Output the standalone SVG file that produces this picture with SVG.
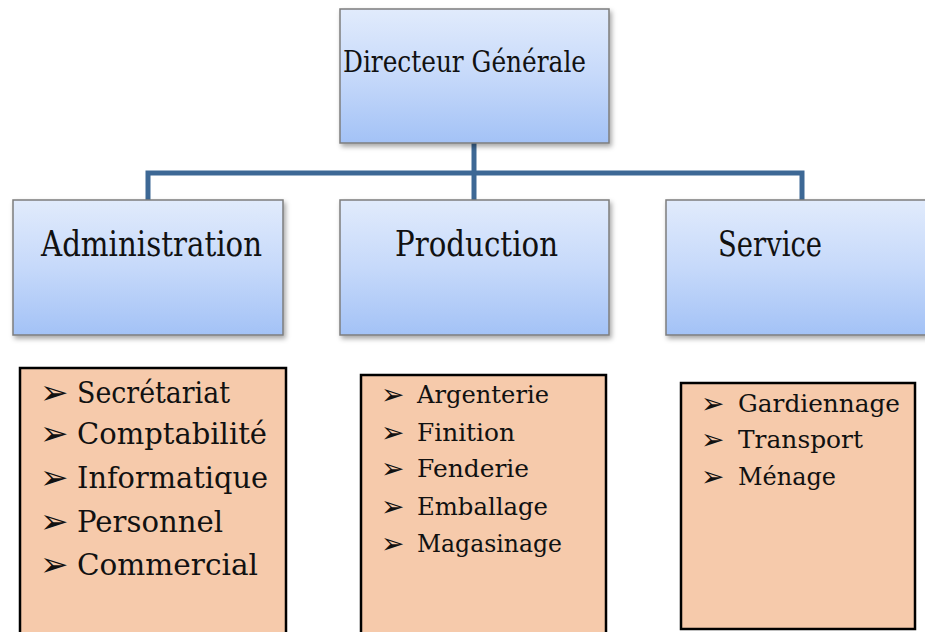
<svg xmlns="http://www.w3.org/2000/svg" width="925" height="632" viewBox="0 0 925 632">
<defs>
<linearGradient id="blueGrad" x1="0" y1="0" x2="0" y2="1">
<stop offset="0" stop-color="#e1ebfc"/>
<stop offset="0.5" stop-color="#c6d9fa"/>
<stop offset="1" stop-color="#a3c2f6"/>
</linearGradient>
<filter id="shadow" x="-10%" y="-10%" width="125%" height="130%">
<feDropShadow dx="2" dy="3" stdDeviation="2.5" flood-color="#000" flood-opacity="0.35"/>
</filter>
</defs>
<style>
.box{fill:url(#blueGrad);stroke:#7d7d7d;stroke-width:1.5;filter:url(#shadow)}
.list{fill:#f6caab;stroke:#000;stroke-width:2.5}
.conn{fill:none;stroke:#3d6895;stroke-width:5;stroke-linejoin:miter}
.t{fill:#111;font-family:'DejaVu Serif',serif}
.bul{fill:#111;font-family:'DejaVu Sans',sans-serif}
.h1{font-size:30px}
.h2{font-size:36px}
.l1{font-size:29px}
.l2{font-size:25px}
</style>
<rect width="925" height="632" fill="#fff"/>
<g id="connectors">
<path class="conn" d="M474 143 V200"/>
<path class="conn" d="M148 200 V173 H802 V200"/>
</g>
<g id="directeur">
<rect class="box" x="340" y="9" width="269" height="134"/>
<text class="t h1" font-family="DejaVu Serif, serif" x="343" y="72" textLength="243" lengthAdjust="spacingAndGlyphs">Directeur Générale</text>
</g>
<g id="administration">
<rect class="box" x="13" y="200" width="270" height="135"/>
<text class="t h2" font-family="DejaVu Serif, serif" x="41" y="256" textLength="221" lengthAdjust="spacingAndGlyphs">Administration</text>
</g>
<g id="production">
<rect class="box" x="340" y="200" width="269" height="135"/>
<text class="t h2" font-family="DejaVu Serif, serif" x="395" y="256" textLength="163" lengthAdjust="spacingAndGlyphs">Production</text>
</g>
<g id="service">
<rect class="box" x="666" y="200" width="275" height="135"/>
<text class="t h2" font-family="DejaVu Serif, serif" x="718" y="256" textLength="104" lengthAdjust="spacingAndGlyphs">Service</text>
</g>
<g id="admin-list">
<rect class="list" x="20" y="368" width="266" height="280"/>
<text class="bul" font-size="34" x="40" y="404">➢</text>
<text class="t l1" font-family="DejaVu Serif, serif" x="77" y="403" textLength="153" lengthAdjust="spacingAndGlyphs">Secrétariat</text>
<text class="bul" font-size="34" x="40" y="445">➢</text>
<text class="t l1" font-family="DejaVu Serif, serif" x="77" y="444" textLength="190" lengthAdjust="spacingAndGlyphs">Comptabilité</text>
<text class="bul" font-size="34" x="40" y="489">➢</text>
<text class="t l1" font-family="DejaVu Serif, serif" x="77" y="488" textLength="191" lengthAdjust="spacingAndGlyphs">Informatique</text>
<text class="bul" font-size="34" x="40" y="533">➢</text>
<text class="t l1" font-family="DejaVu Serif, serif" x="77" y="532" textLength="146" lengthAdjust="spacingAndGlyphs">Personnel</text>
<text class="bul" font-size="34" x="40" y="576">➢</text>
<text class="t l1" font-family="DejaVu Serif, serif" x="77" y="575" textLength="181" lengthAdjust="spacingAndGlyphs">Commercial</text>
</g>
<g id="production-list">
<rect class="list" x="361" y="375" width="245" height="270"/>
<text class="bul" font-size="28" x="381" y="404">➢</text>
<text class="t l2" font-family="DejaVu Serif, serif" x="417" y="403" textLength="132" lengthAdjust="spacingAndGlyphs">Argenterie</text>
<text class="bul" font-size="28" x="381" y="442">➢</text>
<text class="t l2" font-family="DejaVu Serif, serif" x="417" y="441" textLength="98" lengthAdjust="spacingAndGlyphs">Finition</text>
<text class="bul" font-size="28" x="381" y="478">➢</text>
<text class="t l2" font-family="DejaVu Serif, serif" x="417" y="477" textLength="112" lengthAdjust="spacingAndGlyphs">Fenderie</text>
<text class="bul" font-size="28" x="381" y="516">➢</text>
<text class="t l2" font-family="DejaVu Serif, serif" x="417" y="515" textLength="131" lengthAdjust="spacingAndGlyphs">Emballage</text>
<text class="bul" font-size="28" x="381" y="553">➢</text>
<text class="t l2" font-family="DejaVu Serif, serif" x="417" y="552" textLength="145" lengthAdjust="spacingAndGlyphs">Magasinage</text>
</g>
<g id="service-list">
<rect class="list" x="681" y="383" width="234" height="246"/>
<text class="bul" font-size="28" x="701" y="413">➢</text>
<text class="t l2" font-family="DejaVu Serif, serif" x="738" y="412" textLength="162" lengthAdjust="spacingAndGlyphs">Gardiennage</text>
<text class="bul" font-size="28" x="701" y="449">➢</text>
<text class="t l2" font-family="DejaVu Serif, serif" x="738" y="448" textLength="125" lengthAdjust="spacingAndGlyphs">Transport</text>
<text class="bul" font-size="28" x="701" y="486">➢</text>
<text class="t l2" font-family="DejaVu Serif, serif" x="738" y="485" textLength="98" lengthAdjust="spacingAndGlyphs">Ménage</text>
</g>
</svg>
